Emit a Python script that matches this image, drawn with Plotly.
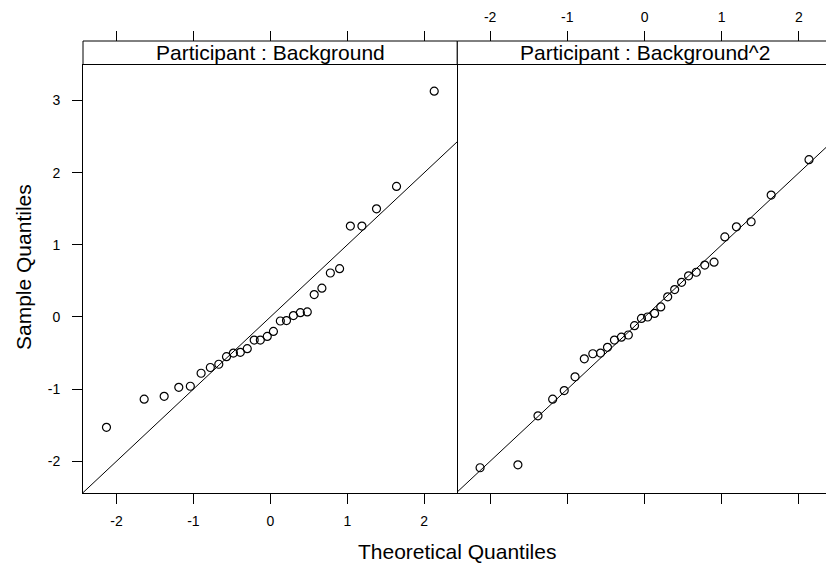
import plotly.graph_objects as go

# ---- data ----
theoretical_q = [-2.13, -1.64, -1.38, -1.19, -1.04, -0.90, -0.78, -0.67, -0.57, -0.48,
                 -0.39, -0.30, -0.21, -0.13, -0.04, 0.04, 0.13, 0.21, 0.30, 0.39,
                 0.48, 0.57, 0.67, 0.78, 0.90, 1.04, 1.19, 1.38, 1.64, 2.13]
sample_background = [-1.53, -1.14, -1.10, -0.975, -0.96, -0.78, -0.70, -0.655, -0.55, -0.50,
                     -0.49, -0.44, -0.32, -0.32, -0.27, -0.20, -0.056, -0.05, 0.02, 0.06,
                     0.07, 0.31, 0.40, 0.61, 0.67, 1.26, 1.26, 1.50, 1.81, 3.13]
sample_background_sq = [-2.09, -2.05, -1.37, -1.14, -1.02, -0.83, -0.58, -0.51, -0.50, -0.42,
                        -0.32, -0.28, -0.25, -0.12, -0.02, 0.00, 0.05, 0.14, 0.28, 0.38,
                        0.48, 0.57, 0.62, 0.72, 0.76, 1.11, 1.25, 1.32, 1.69, 2.18]
panel_titles = ["Participant : Background", "Participant : Background^2"]
ref_slope = [1.0, 1.0]
ref_intercept = [0.0, 0.0]
x_tickvals = [-2, -1, 0, 1, 2]
x_ticktext = ["-2", "-1", "0", "1", "2"]
y_tickvals = [-2, -1, 0, 1, 2, 3]
y_ticktext = ["-2", "-1", "0", "1", "2", "3"]
line_x = [-3, 3]

FONT = "Liberation Sans, Arial, sans-serif"
W, H = 826, 565
L, R, T, B = 83, 0, 41, 72
plot_w = W - L - R
plot_h = H - T - B
d = (457.3 - L) / plot_w
ytop = (H - B - 64.5) / plot_h

fig = go.Figure()

for i, (xa, samp) in enumerate([("x", sample_background), ("x2", sample_background_sq)]):
    fig.add_trace(go.Scatter(
        x=[lx for lx in line_x],
        y=[ref_intercept[i] + ref_slope[i] * lx for lx in line_x],
        mode="lines", line=dict(color="black", width=1),
        xaxis=xa, yaxis="y", showlegend=False, hoverinfo="skip"))
    fig.add_trace(go.Scatter(
        x=theoretical_q, y=samp, mode="markers",
        marker=dict(symbol="circle-open", size=8, color="black", line=dict(width=1.2)),
        xaxis=xa, yaxis="y", showlegend=False))

# dummy traces for the top axes
fig.add_trace(go.Scatter(x=[], y=[], xaxis="x3", yaxis="y", showlegend=False))
fig.add_trace(go.Scatter(x=[], y=[], xaxis="x4", yaxis="y", showlegend=False))

axis_common = dict(showgrid=False, zeroline=False, ticks="outside", ticklen=10,
                   tickwidth=1, tickcolor="black", linecolor="black", linewidth=1,
                   tickfont=dict(family=FONT, size=14, color="black"))

xr1 = [-2.435, 2.43]
xr2 = [-2.425, 2.35]

fig.update_layout(
    width=W, height=H,
    margin=dict(l=L, r=R, t=T, b=B),
    paper_bgcolor="white", plot_bgcolor="white",
    xaxis=dict(domain=[0, d], range=xr1, anchor="y", side="bottom",
               tickvals=x_tickvals, ticktext=x_ticktext, showline=True, mirror=True,
               ticklabelstandoff=5, **axis_common),
    xaxis2=dict(domain=[d, 1], range=xr2, anchor="y", side="bottom",
                tickvals=x_tickvals, ticktext=x_ticktext, showline=True, mirror=True,
                showticklabels=False, **axis_common),
    xaxis3=dict(overlaying="x", range=xr1, anchor="free", position=1, side="top",
                tickvals=x_tickvals, ticktext=x_ticktext, showline=False,
                showticklabels=False, **axis_common),
    xaxis4=dict(overlaying="x2", range=xr2, anchor="free", position=1, side="top",
                tickvals=x_tickvals, ticktext=x_ticktext, showline=False,
                showticklabels=True, ticklabelstandoff=3, **axis_common),
    yaxis=dict(domain=[0, ytop], range=[-2.44, 3.50], anchor="x",
               tickvals=y_tickvals, ticktext=y_ticktext, showline=True, mirror=True,
               ticklabelstandoff=9, **axis_common),
)

# strips
fig.add_shape(type="rect", xref="paper", yref="paper", x0=0, x1=d, y0=ytop, y1=1,
              line=dict(color="black", width=1), fillcolor="white", layer="below")
fig.add_shape(type="rect", xref="paper", yref="paper", x0=d, x1=1.05, y0=ytop, y1=1,
              line=dict(color="black", width=1), fillcolor="white", layer="below")

strip_centers = [(270.3 - L) / plot_w, (644.5 - L) / plot_w]
for cx, txt in zip(strip_centers, panel_titles):
    fig.add_annotation(x=cx, y=(ytop + 1) / 2, xref="paper", yref="paper",
                       text=txt, showarrow=False, xanchor="center", yanchor="middle",
                       font=dict(family=FONT, size=21, color="black"))

fig.add_annotation(x=(457.3 - L) / plot_w, y=(H - B - 551.7) / plot_h,
                   xref="paper", yref="paper", text="Theoretical Quantiles",
                   showarrow=False, xanchor="center", yanchor="middle",
                   font=dict(family=FONT, size=21, color="black"))
fig.add_annotation(x=(23 - L) / plot_w, y=(H - B - 267) / plot_h,
                   xref="paper", yref="paper", text="Sample Quantiles", textangle=-90,
                   showarrow=False, xanchor="center", yanchor="middle",
                   font=dict(family=FONT, size=21, color="black"))

fig.write_html("out.html")
